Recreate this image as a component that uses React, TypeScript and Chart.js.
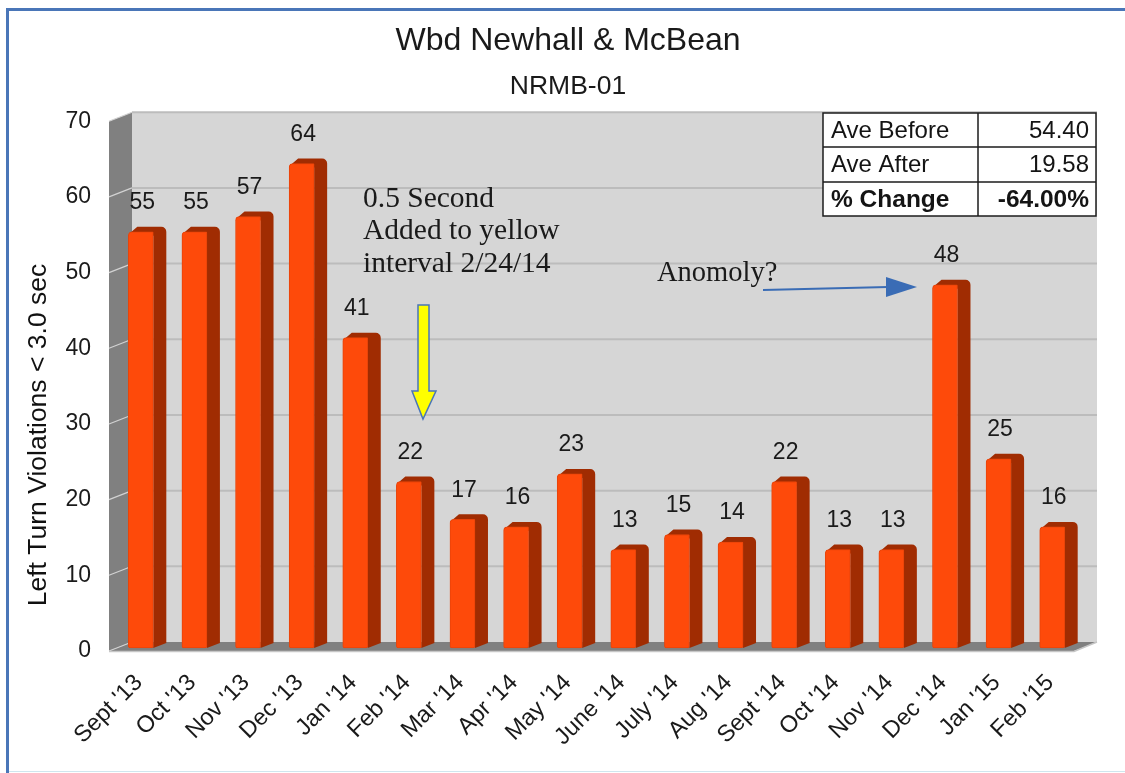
import React, { useEffect, useRef } from "react";
import { Chart, registerables } from "chart.js";

Chart.register(...registerables);

const categories = ["Sept '13", "Oct '13", "Nov '13", "Dec '13", "Jan '14", "Feb '14", "Mar '14", "Apr '14", "May '14", "June '14", "July '14", "Aug '14", "Sept '14", "Oct '14", "Nov '14", "Dec '14", "Jan '15", "Feb '15"];
const violations = [55, 55, 57, 64, 41, 22, 17, 16, 23, 13, 15, 14, 22, 13, 13, 48, 25, 16];
const tableLabels = ["Ave Before", "Ave After", "% Change"];
const tableValues = ["54.40", "19.58", "-64.00%"];
const noteLines = ["0.5 Second", "Added to yellow", "interval 2/24/14"];
const anomalyNote = "Anomoly?";
const chartTitle = "Wbd Newhall & McBean";
const chartSubtitle = "NRMB-01";
const yAxisTitle = "Left Turn Violations < 3.0 sec";

const SANS = "'Liberation Sans', Arial, sans-serif";
const SERIF = "'Liberation Serif', 'Times New Roman', serif";
const DEPTH_X = 23;
const DEPTH_Y = -9;
const BAR_DX = 5;
const BAR_DY = -3;
const SIDE_X = 13;
const SIDE_Y = -5;

const poly = (ctx: CanvasRenderingContext2D, pts: number[][], fill: string) => {
  ctx.beginPath();
  pts.forEach(([x, y], i) => (i ? ctx.lineTo(x, y) : ctx.moveTo(x, y)));
  ctx.closePath();
  ctx.fillStyle = fill;
  ctx.fill();
};

const framePlugin = {
  id: "frame",
  beforeDraw(chart: any) {
    const ctx = chart.ctx as CanvasRenderingContext2D;
    ctx.save();
    ctx.fillStyle = "#ffffff";
    ctx.fillRect(0, 0, 1125, 773);
    ctx.fillStyle = "#4a76b8";
    ctx.fillRect(6, 8, 1119, 3);
    ctx.fillRect(6, 8, 3, 765);
    ctx.fillStyle = "#cfe6ee";
    ctx.fillRect(9, 771, 1116, 1);
    ctx.restore();
  },
};

const wallsPlugin = {
  id: "walls",
  beforeDatasetsDraw(chart: any) {
    const ctx = chart.ctx as CanvasRenderingContext2D;
    const { left, right, top, bottom } = chart.chartArea;
    const yScale = chart.scales.y;
    ctx.save();
    // back wall
    poly(ctx, [[left + DEPTH_X, top + DEPTH_Y], [right + DEPTH_X, top + DEPTH_Y], [right + DEPTH_X, bottom + DEPTH_Y], [left + DEPTH_X, bottom + DEPTH_Y]], "#d6d6d6");
    // left wall
    poly(ctx, [[left, top], [left + DEPTH_X, top + DEPTH_Y], [left + DEPTH_X, bottom + DEPTH_Y], [left, bottom]], "#808080");
    // floor
    poly(ctx, [[left, bottom], [left + DEPTH_X, bottom + DEPTH_Y], [right + DEPTH_X, bottom + DEPTH_Y], [right, bottom]], "#808080");
    // grid lines follow the value axis
    yScale.ticks.forEach((t: any) => {
      const y = yScale.getPixelForValue(t.value);
      ctx.lineWidth = 2;
      if (t.value !== 0) {
        ctx.strokeStyle = "#bcbcbc";
        ctx.beginPath();
        ctx.moveTo(left + DEPTH_X, y + DEPTH_Y);
        ctx.lineTo(right + DEPTH_X, y + DEPTH_Y);
        ctx.stroke();
      }
      ctx.lineWidth = 1.2;
      ctx.strokeStyle = "#d2d2d2";
      ctx.beginPath();
      ctx.moveTo(left, y);
      ctx.lineTo(left + DEPTH_X, y + DEPTH_Y);
      ctx.stroke();
    });
    ctx.strokeStyle = "#c6c6c6";
    ctx.lineWidth = 1.5;
    ctx.beginPath();
    ctx.moveTo(left, bottom + 0.5);
    ctx.lineTo(right, bottom + 0.5);
    ctx.lineTo(right + DEPTH_X, bottom + DEPTH_Y);
    ctx.stroke();
    ctx.restore();

    // bars are drawn by Chart.js, in the depth plane of the box
    ctx.save();
    ctx.translate(BAR_DX, BAR_DY);
    const meta = chart.getDatasetMeta(0);
    meta.data.forEach((bar: any) => {
      const half = bar.width / 2;
      const xl = bar.x - half;
      const xr = bar.x + half;
      const r = 5;
      ctx.beginPath();
      ctx.moveTo(xr, bar.base);
      ctx.lineTo(xr + SIDE_X, bar.base + SIDE_Y);
      ctx.arcTo(xr + SIDE_X, bar.y + SIDE_Y, xr + SIDE_X - r, bar.y + SIDE_Y, r);
      ctx.lineTo(xl + SIDE_X - 4, bar.y + SIDE_Y);
      ctx.lineTo(xl + 2, bar.y + 1);
      ctx.lineTo(xr, bar.y + 4);
      ctx.closePath();
      ctx.fillStyle = "#a02c02";
      ctx.fill();
    });
  },
  afterDatasetsDraw(chart: any) {
    const ctx = chart.ctx as CanvasRenderingContext2D;
    ctx.restore();
    ctx.save();
    ctx.fillStyle = "#1a1a1a";
    ctx.font = `23px ${SANS}`;
    ctx.textAlign = "center";
    ctx.textBaseline = "middle";
    const meta = chart.getDatasetMeta(0);
    meta.data.forEach((bar: any, i: number) => {
      ctx.fillText(String(violations[i]), bar.x + BAR_DX + 1.5, bar.y + BAR_DY - 29);
    });
    ctx.restore();
  },
};

const annotationPlugin = {
  id: "annotations",
  afterDraw(chart: any) {
    const ctx = chart.ctx as CanvasRenderingContext2D;
    ctx.save();

    // axis title
    ctx.save();
    ctx.translate(39, 435);
    ctx.rotate(-Math.PI / 2);
    ctx.font = `26.5px ${SANS}`;
    ctx.fillStyle = "#111111";
    ctx.textAlign = "center";
    ctx.textBaseline = "middle";
    ctx.fillText(yAxisTitle, 0, 0);
    ctx.restore();

    // note text
    ctx.font = `29.5px ${SERIF}`;
    ctx.fillStyle = "#1a1a1a";
    ctx.textAlign = "left";
    ctx.textBaseline = "middle";
    noteLines.forEach((line, i) => ctx.fillText(line, 363, 199 + i * 32.7));
    ctx.font = `28.5px ${SERIF}`;
    ctx.fillText(anomalyNote, 657, 274);

    // yellow arrow
    ctx.beginPath();
    [[418, 305], [429, 305], [429, 391], [436, 391], [423, 419], [412, 391], [418, 391]].forEach(([x, y], i) =>
      i ? ctx.lineTo(x, y) : ctx.moveTo(x, y)
    );
    ctx.closePath();
    ctx.fillStyle = "#ffff00";
    ctx.fill();
    ctx.strokeStyle = "#4a76b8";
    ctx.lineWidth = 1.5;
    ctx.stroke();

    // blue arrow
    ctx.strokeStyle = "#3a6cb5";
    ctx.lineWidth = 2;
    ctx.beginPath();
    ctx.moveTo(763, 290);
    ctx.lineTo(888, 287);
    ctx.stroke();
    poly(ctx, [[886, 277], [917, 287], [886, 297]], "#3a6cb5");

    // summary table
    const tx = [823, 978, 1096];
    const ty = [113, 147, 182, 216];
    ctx.fillStyle = "#ffffff";
    ctx.fillRect(tx[0], ty[0], tx[2] - tx[0], ty[3] - ty[0]);
    ctx.strokeStyle = "#1c1c1c";
    ctx.lineWidth = 1.5;
    ctx.strokeRect(tx[0], ty[0], tx[2] - tx[0], ty[3] - ty[0]);
    ctx.beginPath();
    ctx.moveTo(tx[1], ty[0]);
    ctx.lineTo(tx[1], ty[3]);
    ctx.moveTo(tx[0], ty[1]);
    ctx.lineTo(tx[2], ty[1]);
    ctx.moveTo(tx[0], ty[2]);
    ctx.lineTo(tx[2], ty[2]);
    ctx.stroke();
    ctx.fillStyle = "#141414";
    ctx.textBaseline = "middle";
    tableLabels.forEach((label, i) => {
      const weight = i === 2 ? "bold " : "";
      const mid = (ty[i] + ty[i + 1]) / 2 + 1;
      ctx.font = `${weight}${i === 2 ? 24.5 : 24}px ${SANS}`;
      ctx.textAlign = "left";
      ctx.fillText(label, tx[0] + 8, mid);
      ctx.textAlign = "right";
      ctx.fillText(tableValues[i], tx[2] - 7, mid);
    });
    ctx.restore();
  },
};

export default function App() {
  const ref = useRef<HTMLCanvasElement>(null);
  useEffect(() => {
    const chart = new Chart(ref.current as HTMLCanvasElement, {
      type: "bar",
      data: {
        labels: categories,
        datasets: [
          {
            data: violations,
            backgroundColor: "#fe4a0a",
            borderColor: "#e8440a",
            borderWidth: 1,
            borderRadius: { topLeft: 4, topRight: 1, bottomLeft: 2, bottomRight: 2 },
            borderSkipped: false,
            barThickness: 25,
            clip: false,
          },
        ],
      },
      options: {
        responsive: false,
        animation: false,
        layout: { padding: { left: 62, right: 51, top: 0, bottom: 0 } },
        plugins: {
          legend: { display: false },
          tooltip: { enabled: false },
          title: {
            display: true,
            text: chartTitle,
            color: "#1a1a1a",
            font: { family: SANS, size: 32, weight: "normal", lineHeight: 1.2 },
            padding: { top: 22, bottom: 0 },
          },
          subtitle: {
            display: true,
            text: chartSubtitle,
            color: "#1a1a1a",
            font: { family: SANS, size: 26.5, weight: "normal", lineHeight: 1.2 },
            padding: { top: 10, bottom: 19 },
          },
        },
        scales: {
          x: {
            grid: { display: false, drawTicks: false },
            border: { display: false },
            ticks: {
              color: "#1a1a1a",
              font: { family: SANS, size: 23.5 },
              maxRotation: 45,
              minRotation: 45,
              autoSkip: false,
              padding: 18,
              labelOffset: 3,
            },
            afterFit: (s: any) => {
              s.height = 122;
            },
          },
          y: {
            min: 0,
            max: 70,
            grid: { display: false, drawTicks: false },
            border: { display: false },
            ticks: {
              stepSize: 10,
              color: "#1a1a1a",
              font: { family: SANS, size: 23 },
              padding: 18,
            },
            afterFit: (s: any) => {
              s.width = 47;
            },
          },
        },
      },
      plugins: [framePlugin, wallsPlugin, annotationPlugin],
    } as any);
    return () => chart.destroy();
  }, []);
  return (
    <div style={{ position: "fixed", left: 0, top: 0, width: 1125, height: 773 }}>
      <canvas ref={ref} width={1125} height={773} style={{ display: "block" }} />
    </div>
  );
}
